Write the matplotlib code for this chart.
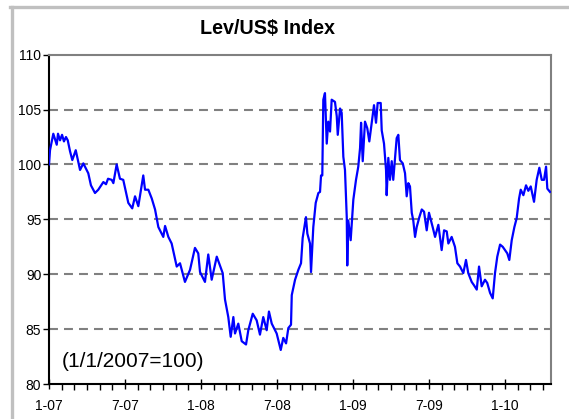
import matplotlib
matplotlib.use("Agg")
import matplotlib.pyplot as plt
from matplotlib.lines import Line2D

plt.rcParams['font.family'] = ['Liberation Sans', 'DejaVu Sans']

# Months elapsed since 1 Jan 2007 and the index level (1/1/2007 = 100)
months = [0.00, 0.08, 0.34, 0.61, 0.71, 0.87, 1.03, 1.18, 1.34, 1.48, 1.66, 1.84,
          2.11, 2.45, 2.71, 3.10, 3.31, 3.63, 3.89, 4.29, 4.50, 4.66, 4.95, 5.08,
          5.34, 5.60, 5.86, 6.26, 6.57, 6.79, 7.05, 7.44, 7.58, 7.84, 8.11, 8.37,
          8.63, 9.02, 9.16, 9.42, 9.68, 10.08, 10.34, 10.52, 10.73, 11.13, 11.52,
          11.78, 11.92, 12.31, 12.57, 12.84, 13.24, 13.55, 13.71, 13.89, 14.15,
          14.34, 14.55, 14.68, 14.94, 15.21, 15.55, 15.73, 16.08, 16.39, 16.65,
          16.91, 17.18, 17.36, 17.58, 17.97, 18.29, 18.49, 18.71, 18.89, 19.10,
          19.16, 19.42, 19.68, 19.89, 20.02, 20.28, 20.39, 20.60, 20.68, 20.86,
          21.05, 21.26, 21.39, 21.47, 21.57, 21.65, 21.78, 21.92, 22.04, 22.18,
          22.31, 22.57, 22.71, 22.79, 22.97, 23.10, 23.23, 23.36, 23.50, 23.54,
          23.62, 23.81, 24.02, 24.23, 24.41, 24.55, 24.63, 24.76, 24.94, 25.12,
          25.28, 25.47, 25.65, 25.81, 25.94, 26.18, 26.26, 26.44, 26.60, 26.65,
          26.78, 26.91, 27.05, 27.17, 27.31, 27.44, 27.57, 27.70, 27.92, 28.10,
          28.23, 28.36, 28.49, 28.63, 28.75, 28.89, 29.02, 29.23, 29.42, 29.60,
          29.81, 29.99, 30.28, 30.47, 30.73, 30.99, 31.18, 31.39, 31.52, 31.78,
          32.04, 32.23, 32.44, 32.70, 32.91, 33.09, 33.36, 33.54, 33.76, 33.94,
          34.15, 34.41, 34.59, 34.81, 35.02, 35.20, 35.38, 35.60, 35.81, 35.99,
          36.17, 36.33, 36.52, 36.73, 36.91, 37.10, 37.23, 37.44, 37.65, 37.83,
          38.02, 38.28, 38.49, 38.70, 38.89, 39.07, 39.23, 39.33, 39.54]

index = [100.0, 101.3, 102.8, 101.8, 102.8, 102.2, 102.7, 102.1, 102.5, 102.2, 101.2, 100.4,
         101.3, 99.5, 100.1, 99.2, 98.1, 97.4, 97.7, 98.4, 98.2, 98.7, 98.6, 98.3,
         100.0, 98.7, 98.6, 96.5, 96.0, 97.1, 96.2, 99.0, 97.7, 97.7, 96.9, 95.9,
         94.3, 93.4, 94.4, 93.4, 92.8, 90.7, 91.0, 90.2, 89.3, 90.4, 92.4,
         91.9, 90.2, 89.3, 91.8, 89.5, 91.6, 90.6, 90.1, 87.7, 86.1,
         84.3, 86.1, 84.6, 85.5, 83.9, 83.6, 84.9, 86.4, 85.8, 84.5,
         86.1, 84.9, 86.6, 85.5, 84.6, 83.1, 84.2, 83.7, 85.1, 85.4,
         88.1, 89.5, 90.4, 91.0, 93.3, 95.2, 93.7, 92.8, 90.2, 94.3,
         96.5, 97.4, 97.5, 99.0, 99.0, 105.9, 106.5, 101.9, 103.9, 103.0,
         105.9, 105.7, 104.4, 102.7, 105.1, 104.7, 100.7, 99.5, 95.2, 90.8,
         94.9, 93.1, 96.8, 98.6, 99.8, 101.5, 103.8, 100.3, 103.9, 103.3,
         102.1, 103.8, 105.4, 103.8, 105.6, 105.6, 103.1, 101.9, 99.5, 97.2,
         100.6, 98.6, 100.3, 98.6, 100.6, 102.4, 102.7, 100.4, 100.1, 99.2,
         97.1, 98.3, 98.0, 95.6, 94.9, 93.4, 94.3, 95.2, 95.9, 95.7,
         94.0, 95.6, 94.3, 93.4, 94.5, 92.2, 94.0, 93.9, 92.8, 93.4,
         92.5, 91.0, 90.7, 90.1, 91.3, 90.1, 89.3, 89.0, 88.6, 90.7,
         88.9, 89.5, 89.2, 88.3, 87.8, 90.1, 91.6, 92.7, 92.5, 92.2,
         91.9, 91.3, 93.1, 94.3, 95.1, 96.9, 97.7, 97.2, 98.1, 97.6,
         98.0, 96.6, 98.6, 99.7, 98.6, 98.6, 99.8, 97.8, 97.5]

tick_months = [0, 6, 12, 18, 24, 30, 36]
tick_labels = ['1-07', '7-07', '1-08', '7-08', '1-09', '7-09', '1-10']
y_ticks = [80, 85, 90, 95, 100, 105, 110]

W, H = 569, 419
fig = plt.figure(figsize=(W / 100, H / 100), dpi=100)
ax = fig.add_axes([49 / W, 1 - 384 / H, (551 - 49) / W, (384 - 54.7) / H])

# outer chart frame (clipped at the right and bottom of the image)
fig.add_artist(Line2D([11.5 / W, 11.5 / W], [0, 1 - 7.5 / H], transform=fig.transFigure,
                      color='#c0c0c0', lw=2.4))
fig.add_artist(Line2D([10 / W, 1], [1 - 7.5 / H, 1 - 7.5 / H], transform=fig.transFigure,
                      color='#c0c0c0', lw=2.4))

for v in y_ticks[1:-1]:
    ax.axhline(v, color='#808080', lw=1.5, dashes=(4.3, 2.9), zorder=1)

ax.plot(months, index, color='#0000ff', lw=1.6, zorder=3)

ax.set_xlim(0, 39.62)
ax.set_ylim(80, 110)
ax.set_xticks(tick_months)
ax.set_xticklabels(tick_labels)
ax.set_xticks(range(0, 40), minor=True)
ax.set_yticks(y_ticks)

ax.tick_params(axis='x', which='major', direction='inout', length=7, width=1,
               labelsize=10, pad=7, color='black')
ax.tick_params(axis='x', which='minor', direction='out', length=4, width=1, color='black')
ax.tick_params(axis='y', which='major', direction='out', length=4, width=1,
               labelsize=10, pad=1.5, color='black')

for side in ('left', 'bottom'):
    ax.spines[side].set_color('black')
    ax.spines[side].set_linewidth(1.5)
for side in ('top', 'right'):
    ax.spines[side].set_color('#808080')
    ax.spines[side].set_linewidth(1.5)

ax.text(62 / W, 1 - 361 / H, '(1/1/2007=100)', transform=fig.transFigure,
        fontsize=15, va='center', ha='left')

fig.text(267.5 / W, 1 - 29 / H, 'Lev/US$ Index', fontsize=14.2, fontweight='bold',
         ha='center', va='center')

fig.savefig('out.png', dpi=100)
